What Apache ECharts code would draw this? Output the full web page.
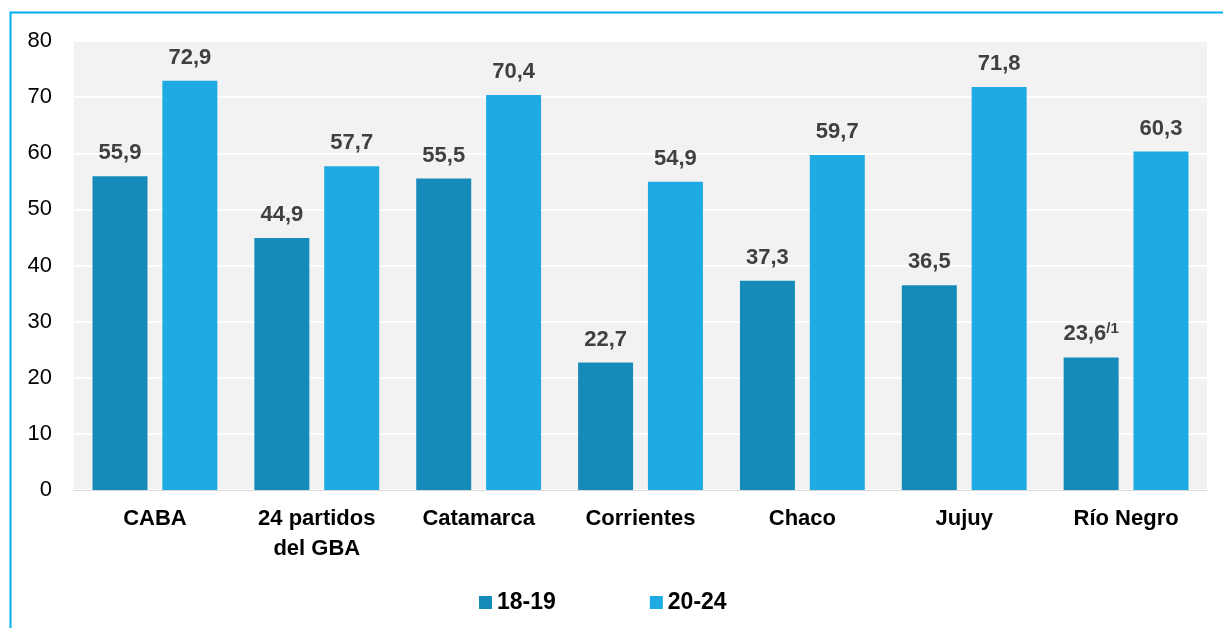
<!DOCTYPE html>
<html><head><meta charset="utf-8">
<script src="https://cdn.jsdelivr.net/npm/echarts@6/dist/echarts.min.js"></script>
<style>html,body{margin:0;padding:0;background:#fff}#c{width:1223px;height:628px}</style>
</head><body><div id="c"></div>
<script>
const categories = ['CABA', '24 partidos\ndel GBA', 'Catamarca', 'Corrientes', 'Chaco', 'Jujuy', 'Río Negro'];
const seriesNames = ['18-19', '20-24'];
const values1819 = [55.9, 44.9, 55.5, 22.7, 37.3, 36.5, 23.6];
const values2024 = [72.9, 57.7, 70.4, 54.9, 59.7, 71.8, 60.3];
const footnotes1819 = ['', '', '', '', '', '', '/1'];
const yTicks = [0, 10, 20, 30, 40, 50, 60, 70, 80];

const FF = '"Liberation Sans", Arial, sans-serif';
const fmt = v => v.toFixed(1).replace('.', ',');
const chart = echarts.init(document.getElementById('c'), null, {renderer: 'canvas'});
const labelBase = {
  show: true, position: 'top', distance: 12,
  color: '#404040', fontFamily: FF,
  fontWeight: 'bold', fontSize: 22
};
chart.setOption({
  animation: false,
  graphic: [{
    type: 'rect', left: 8, top: 10, z: -10,
    shape: {x: 0, y: 0, width: 1230, height: 640},
    style: {fill: 'none', stroke: '#00b0f0', lineWidth: 2}
  }],
  grid: {left: 74, right: 16, top: 41, bottom: 138, show: true, backgroundColor: '#f2f2f2', borderWidth: 0},
  legend: {
    data: seriesNames, top: 586, left: 474, itemGap: 94,
    itemWidth: 13, itemHeight: 13, icon: 'rect',
    textStyle: {fontFamily: FF, fontWeight: 'bold', fontSize: 23, color: '#000'}
  },
  xAxis: {
    type: 'category', data: categories,
    axisLine: {lineStyle: {color: '#d9d9d9', width: 1}},
    axisTick: {show: false},
    axisLabel: {color: '#000', fontFamily: FF, fontWeight: 'bold', fontSize: 22, margin: 14, lineHeight: 30, interval: 0}
  },
  yAxis: {
    type: 'value', min: yTicks[0], max: yTicks[yTicks.length - 1], interval: 10,
    axisLine: {show: false}, axisTick: {show: false},
    splitLine: {lineStyle: {color: '#ffffff', width: 2}},
    axisLabel: {color: '#000', fontFamily: FF, fontSize: 22, margin: 22}
  },
  series: [
    {
      name: seriesNames[0], type: 'bar', data: values1819,
      barWidth: 55, barGap: '27%',
      itemStyle: {color: '#168bb9'},
      label: Object.assign({}, labelBase, {
        formatter: p => footnotes1819[p.dataIndex] ? fmt(p.value) + '{sup|' + footnotes1819[p.dataIndex] + '}' : fmt(p.value),
        rich: {sup: {fontSize: 15, fontWeight: 'bold', color: '#404040', fontFamily: FF, verticalAlign: 'top', padding: [0, 0, 9, 0]}}
      })
    },
    {
      name: seriesNames[1], type: 'bar', data: values2024,
      barWidth: 55,
      itemStyle: {color: '#1eabe3'},
      label: Object.assign({}, labelBase, {formatter: p => fmt(p.value)})
    }
  ]
});
</script></body></html>
